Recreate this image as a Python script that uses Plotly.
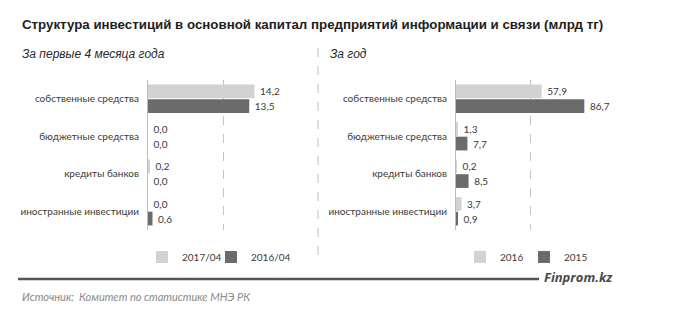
import plotly.graph_objects as go

categories = ["собственные средства", "бюджетные средства", "кредиты банков", "иностранные инвестиции"]

left_names = ["2017/04", "2016/04"]
left_a = [14.2, 0.0, 0.2, 0.0]
left_b = [13.5, 0.0, 0.0, 0.6]

right_names = ["2016", "2015"]
right_a = [57.9, 1.3, 0.2, 3.7]
right_b = [86.7, 7.7, 8.5, 0.9]

title_text = "Структура инвестиций в основной капитал предприятий информации и связи (млрд тг)"
sub_left = "За первые 4 месяца года"
sub_right = "За год"
source_text = "Источник:  Комитет по статистике МНЭ РК"
brand_text = "Finprom.kz"

W, H = 673, 325
LIGHT = "#d2d2d2"
DARK = "#6b6b6b"
LBL_FONT = dict(family="Lato, 'Open Sans', sans-serif", size=10, color="#3a3a3a")


def fmt(v):
    return "\u00a0" + f"{v:.1f}".replace(".", ",")


def px(x):
    return x / W


def py(y):
    return 1 - y / H


fig = go.Figure()

for vals, name, color, xa, ya, lg in [
    (left_a, left_names[0], LIGHT, "x", "y", "legend"),
    (left_b, left_names[1], DARK, "x", "y", "legend2"),
    (right_a, right_names[0], LIGHT, "x2", "y2", "legend3"),
    (right_b, right_names[1], DARK, "x2", "y2", "legend4"),
]:
    fig.add_trace(go.Bar(
        y=categories, x=vals, orientation="h", name=name,
        marker=dict(color=color, line=dict(width=0)),
        text=[fmt(v) for v in vals], textposition="outside",
        textfont=LBL_FONT, cliponaxis=False,
        xaxis=xa, yaxis=ya, legend=lg,
    ))

ydom = [py(230), py(80)]
axis_common = dict(showgrid=True, gridcolor="#c4c4c4", griddash="dash", gridwidth=1,
                   zeroline=False, showticklabels=False, showline=False, ticks="")
leg_font = dict(family="Lato, sans-serif", size=10, color="#3a3a3a")


def leg(xpix):
    return dict(orientation="h", x=px(xpix), y=py(257), xanchor="left", yanchor="middle",
                font=leg_font, bgcolor="rgba(0,0,0,0)", itemwidth=30)


fig.update_layout(
    width=W, height=H, margin=dict(l=0, r=0, t=0, b=0, autoexpand=False),
    paper_bgcolor="white", plot_bgcolor="white",
    barmode="group", bargap=0.22, bargroupgap=0.06,
    showlegend=True,
    xaxis=dict(domain=[px(148), px(298)], range=[0, 20], dtick=10, anchor="y", **axis_common),
    xaxis2=dict(domain=[px(456), px(604)], range=[0, 100], dtick=50, anchor="y2", **axis_common),
    yaxis=dict(domain=ydom, anchor="x", autorange="reversed", showline=True, linecolor="#bdbdbd",
               linewidth=1, ticks="", showgrid=False, tickfont=LBL_FONT, ticklabelstandoff=6),
    yaxis2=dict(domain=ydom, anchor="x2", autorange="reversed", showline=True, linecolor="#bdbdbd",
                linewidth=1, ticks="", showgrid=False, tickfont=LBL_FONT, ticklabelstandoff=6),
    legend=leg(142),
    legend2=leg(211),
    legend3=leg(460),
    legend4=leg(524),
    font=dict(family="Lato, sans-serif"),
)

annotations = [
    dict(text=f"<b>{title_text}</b>", x=px(20), y=py(25), xanchor="left", yanchor="middle",
         font=dict(family="Liberation Sans, Arial, sans-serif", size=13.3, color="#1e1e1e"),
         showarrow=False, xref="paper", yref="paper"),
    dict(text=f"<i>{sub_left}</i>", x=px(20), y=py(54), xanchor="left", yanchor="middle",
         font=dict(family="Liberation Sans, Arial, sans-serif", size=12, color="#2a2a2a"),
         showarrow=False, xref="paper", yref="paper"),
    dict(text=f"<i>{sub_right}</i>", x=px(328), y=py(54), xanchor="left", yanchor="middle",
         font=dict(family="Liberation Sans, Arial, sans-serif", size=12, color="#2a2a2a"),
         showarrow=False, xref="paper", yref="paper"),
    dict(text=f"<b><i>{brand_text}</i></b>", x=px(542), y=py(277), xanchor="left", yanchor="middle",
         font=dict(family="Open Sans, sans-serif", size=13, color="#4a4a4a"),
         showarrow=False, xref="paper", yref="paper"),
    dict(text=f"<i>{source_text}</i>", x=px(20), y=py(296), xanchor="left", yanchor="middle",
         font=dict(family="Lato, sans-serif", size=11, color="#8a8a8a"),
         showarrow=False, xref="paper", yref="paper"),
]
fig.update_layout(annotations=annotations)

fig.update_layout(shapes=[
    dict(type="line", xref="paper", yref="paper", x0=px(318), x1=px(318), y0=py(48), y1=py(256),
         line=dict(color="#bdbdbd", width=1, dash="dash")),
    dict(type="line", xref="paper", yref="paper", x0=px(18), x1=px(539), y0=py(279), y1=py(279),
         line=dict(color="#555555", width=2.5)),
])

fig.write_html("out.html")
